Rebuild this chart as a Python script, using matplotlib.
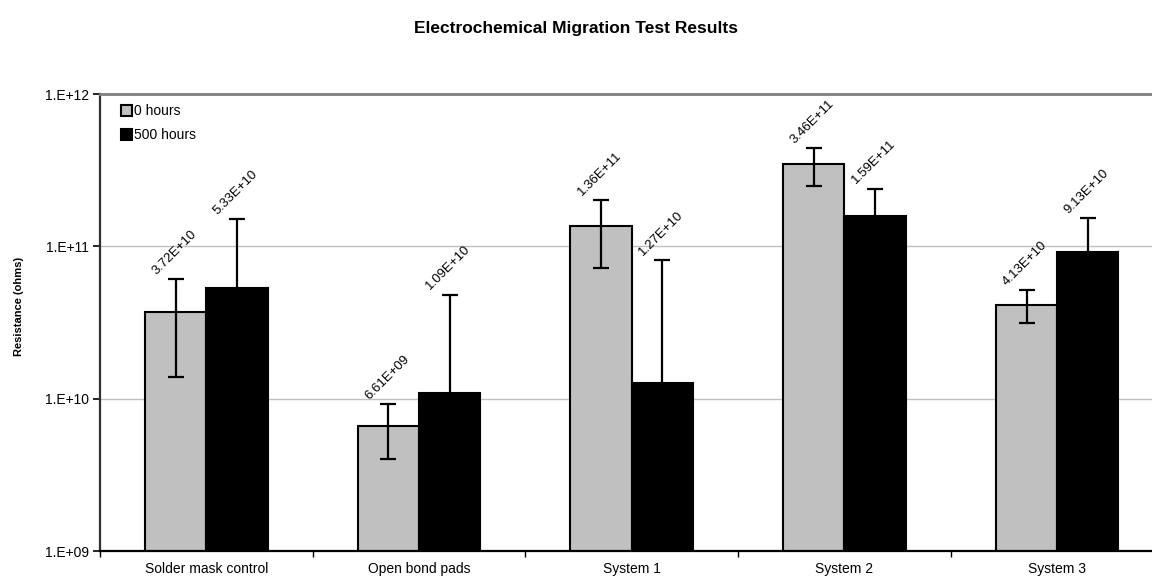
import numpy as np
import matplotlib
matplotlib.use("Agg")
import matplotlib.pyplot as plt

plt.rcParams['font.family'] = ['Liberation Sans', 'DejaVu Sans']

# === Data ===
categories = ["Solder mask control", "Open bond pads", "System 1", "System 2", "System 3"]
series_names = ["0 hours", "500 hours"]
res_0h = [3.72e10, 6.61e9, 1.36e11, 3.46e11, 4.13e10]
res_500h = [5.33e10, 1.09e10, 1.27e10, 1.59e11, 9.13e10]
err_0h = [2.34e10, 2.6e9, 6.4e10, 9.8e10, 1.0e10]
err_500h = [9.7e10, 3.73e10, 6.9e10, 8.0e10, 6.2e10]
ytick_vals = [1e9, 1e10, 1e11, 1e12]
ytick_labels = ["1.E+09", "1.E+10", "1.E+11", "1.E+12"]

YMIN, YMAX = 1e9, 1e12
BAR_W = 0.288

fig = plt.figure(figsize=(11.52, 5.8), dpi=100)
ax = fig.add_axes([100 / 1152, 29 / 580, 1063.5 / 1152, 457 / 580])

x = np.arange(len(categories))
series = [
    (res_0h, err_0h, "#C0C0C0", -BAR_W / 2),
    (res_500h, err_500h, "black", BAR_W / 2),
]

for (vals, errs, color, shift), name in zip(series, series_names):
    vals = np.array(vals)
    errs = np.array(errs)
    xs = x + shift
    ax.bar(xs, vals, width=BAR_W, bottom=0, color=color, edgecolor="black",
           linewidth=1.5, label=name, zorder=2)
    lower = np.minimum(errs, vals - YMIN * 1.0001)
    ax.errorbar(xs, vals, yerr=[lower, errs], fmt="none", ecolor="black",
                elinewidth=1.6, capsize=5.5, capthick=1.6, zorder=3)
    for xi, v, e in zip(xs, vals, errs):
        ax.annotate(f"{v:.2E}", xy=(xi, v + e), xytext=(-1, 1.5),
                    textcoords="offset points", rotation=45,
                    ha="center", va="bottom", fontsize=9.5, zorder=4)

# === Axes styling ===
ax.set_yscale("log")
ax.set_ylim(YMIN, YMAX)
ax.set_xlim(-0.5, 4.5)
ax.set_yticks(ytick_vals)
ax.set_yticklabels(ytick_labels)
ax.yaxis.set_minor_locator(matplotlib.ticker.NullLocator())
ax.tick_params(axis="y", which="major", direction="out", length=5, width=1.2,
               labelsize=10, pad=3)

ax.set_xticks(np.arange(-0.5, 5.0, 1.0))
ax.set_xticklabels([])
ax.set_xticks(x, minor=True)
ax.set_xticklabels(categories, minor=True)
ax.tick_params(axis="x", which="major", direction="out", length=4, width=1.0)
ax.tick_params(axis="x", which="minor", length=0, labelsize=10, pad=8)

ax.grid(axis="y", which="major", color="#C0C0C0", linewidth=1.0, zorder=0)
ax.set_axisbelow(True)

ax.spines["right"].set_visible(False)
ax.spines["top"].set_color("#808080")
ax.spines["top"].set_linewidth(2.0)
ax.spines["left"].set_color("#303030")
ax.spines["left"].set_linewidth(1.6)
ax.spines["bottom"].set_color("black")
ax.spines["bottom"].set_linewidth(1.6)

ax.set_ylabel("Resistance (ohms)", fontsize=8, fontweight="bold")
ax.yaxis.set_label_coords(-76 / 1063.5, (551 - 306) / 457)

leg = ax.legend(loc="upper left", bbox_to_anchor=(0.0197, 0.978), frameon=False,
                fontsize=10, handlelength=0.8, handleheight=0.8,
                handletextpad=0.15, labelspacing=0.75, borderpad=0,
                borderaxespad=0)

fig.text(0.5, 1 - 28 / 580, "Electrochemical Migration Test Results",
         ha="center", va="center", fontsize=12.5, fontweight="bold")

fig.savefig("out.png", dpi=100)
